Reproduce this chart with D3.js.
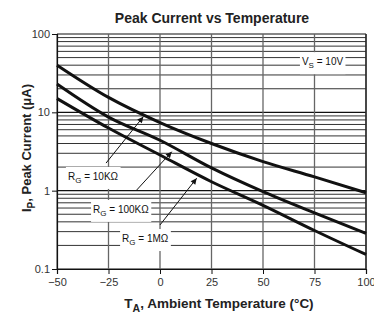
<!DOCTYPE html>
<html>
<head>
<meta charset="utf-8">
<script src="https://cdn.jsdelivr.net/npm/d3@7"></script>
<style>
body { margin: 0; background: #fff; }
svg { display: block; font-family: 'Liberation Sans', Arial, sans-serif; }
</style>
</head>
<body>
<div id="chart"></div>
<script>
//Datos
const temps = [-50, -25, 0, 25, 50, 75, 100];
const rg10k = [40, 15.5, 7.4, 4.0, 2.35, 1.5, 0.94];
const rg100k = [23, 8.7, 4.4, 1.95, 0.97, 0.52, 0.285];
const rg1m = [15, 6.3, 2.85, 1.3, 0.65, 0.31, 0.153];

const xTicks = [-50, -25, 0, 25, 50, 75, 100];
const yTicks = [0.1, 1, 10, 100];
const yTickLabels = ['0.1', '1', '10', '100'];

//Anotaciones (posiciones en unidades de datos)
const annoNames = ['10KΩ', '100KΩ', '1MΩ'];
const annoText = [[-44.7, 1.37], [-32.5, 0.52], [-18.4, 0.221]];
const arrowFrom = [[-26.2, 2.25], [-11.3, 1.02], [0, 0.365]];
const arrowTo = [[-8.1, 8.8], [5.7, 3.14], [17.8, 1.44]];
const vsText = [68.9, 40];

const W = 374, H = 323;
let margin = {top: 34, right: 8, bottom: 54, left: 57},
    width = W - margin.left - margin.right,
    height = H - margin.top - margin.bottom;

let root = d3.select('#chart').append('svg')
    .attr('width', W)
    .attr('height', H);

let svg = root.append('g')
    .attr('transform', 'translate(' + margin.left + ',' + margin.top + ')');

let x = d3.scaleLinear().domain([-50, 100]).range([0, width]);
let y = d3.scaleLog().domain([0.1, 100]).range([height, 0]);

//Rejilla horizontal menor
let minor = [];
[0.1, 1, 10].forEach(function(d) {
    for (let k = 2; k <= 9; k++) minor.push(k * d);
});

svg.append('g').selectAll('line')
    .data(minor)
    .enter().append('line')
    .attr('x1', 0).attr('x2', width)
    .attr('y1', d => y(d)).attr('y2', d => y(d))
    .attr('stroke', '#333')
    .attr('stroke-width', 1);

svg.append('g').selectAll('line')
    .data(yTicks)
    .enter().append('line')
    .attr('x1', 0).attr('x2', width)
    .attr('y1', d => y(d)).attr('y2', d => y(d))
    .attr('stroke', '#111')
    .attr('stroke-width', 1.2);

//Rejilla vertical
svg.append('g').selectAll('line')
    .data(xTicks)
    .enter().append('line')
    .attr('x1', d => x(d)).attr('x2', d => x(d))
    .attr('y1', 0).attr('y2', height)
    .attr('stroke', '#666')
    .attr('stroke-width', 1.3);

//Ejes
svg.append('g')
    .attr('transform', 'translate(0,' + height + ')')
    .call(d3.axisBottom(x).tickValues(xTicks).tickSize(5).tickPadding(4).tickFormat(d3.format('d')))
    .call(g => g.select('.domain').attr('stroke', '#111').attr('stroke-width', 1.2))
    .call(g => g.selectAll('.tick line').attr('stroke', '#111'))
    .call(g => g.selectAll('.tick text').attr('font-size', 11).attr('fill', '#333').attr('font-family', "'Liberation Sans', Arial, sans-serif"));

svg.append('g')
    .call(d3.axisLeft(y).tickValues(yTicks).tickSize(5).tickPadding(2).tickFormat((d, i) => yTickLabels[i]))
    .call(g => g.select('.domain').attr('stroke', '#111').attr('stroke-width', 1.2))
    .call(g => g.selectAll('.tick line').attr('stroke', '#111'))
    .call(g => g.selectAll('.tick text').attr('font-size', 11).attr('fill', '#333').attr('font-family', "'Liberation Sans', Arial, sans-serif"));

svg.append('line')
    .attr('x1', width).attr('x2', width).attr('y1', 0).attr('y2', height)
    .attr('stroke', '#111').attr('stroke-width', 1.2);

//Curvas
let line = d3.line()
    .x((d, i) => x(temps[i]))
    .y(d => y(d))
    .curve(d3.curveMonotoneX);

[rg10k, rg100k, rg1m].forEach(function(serie) {
    svg.append('path')
        .datum(serie)
        .attr('d', line)
        .attr('fill', 'none')
        .attr('stroke', '#111')
        .attr('stroke-width', 3);
});

//Flechas
root.append('defs').append('marker')
    .attr('id', 'arrow')
    .attr('viewBox', '0 0 10 10')
    .attr('refX', 10).attr('refY', 5)
    .attr('markerWidth', 8).attr('markerHeight', 6)
    .attr('markerUnits', 'userSpaceOnUse')
    .attr('orient', 'auto')
    .append('path')
    .attr('d', 'M0,0L10,5L0,10z')
    .attr('fill', '#111');

arrowFrom.forEach(function(p, i) {
    svg.append('line')
        .attr('x1', x(p[0])).attr('y1', y(p[1]))
        .attr('x2', x(arrowTo[i][0])).attr('y2', y(arrowTo[i][1]))
        .attr('stroke', '#111')
        .attr('stroke-width', 1)
        .attr('marker-end', 'url(#arrow)');
});

//Etiquetas con fondo blanco
function boxedLabel(px, py, main, sub, rest) {
    let g = svg.append('g');
    let rect = g.append('rect').attr('fill', '#fff');
    let t = g.append('text')
        .attr('x', px).attr('y', py)
        .attr('font-size', 10)
        .attr('fill', '#111');
    t.append('tspan').text(main);
    t.append('tspan').attr('font-size', 8).attr('dy', 3).text(sub);
    t.append('tspan').attr('dy', -3).text(rest);
    let bb = t.node().getBBox();
    rect.attr('x', bb.x - 2).attr('y', bb.y - 4)
        .attr('width', bb.width + 4).attr('height', bb.height + 8);
}

annoNames.forEach(function(n, i) {
    boxedLabel(x(annoText[i][0]), y(annoText[i][1]), 'R', 'G', ' = ' + n);
});
boxedLabel(x(vsText[0]), y(vsText[1]), 'V', 'S', ' = 10V');

//Titulos
root.append('text')
    .attr('x', 212).attr('y', 23)
    .attr('text-anchor', 'middle')
    .attr('font-size', 14).attr('font-weight', 'bold')
    .attr('fill', '#222')
    .text('Peak Current vs Temperature');

let xl = root.append('text')
    .attr('x', 219).attr('y', 308)
    .attr('text-anchor', 'middle')
    .attr('font-size', 13.5).attr('font-weight', 'bold')
    .attr('fill', '#222');
xl.append('tspan').text('T');
xl.append('tspan').attr('font-size', 10.5).attr('dy', 4).text('A');
xl.append('tspan').attr('dy', -4).text(', Ambient Temperature (°C)');

let yl = root.append('text')
    .attr('transform', 'translate(31,148) rotate(-90)')
    .attr('text-anchor', 'middle')
    .attr('font-size', 13).attr('font-weight', 'bold')
    .attr('fill', '#222');
yl.append('tspan').text('I');
yl.append('tspan').attr('font-size', 10).attr('dy', 4).text('P');
yl.append('tspan').attr('dy', -4).text(', Peak Current (μA)');
</script>
</body>
</html>
